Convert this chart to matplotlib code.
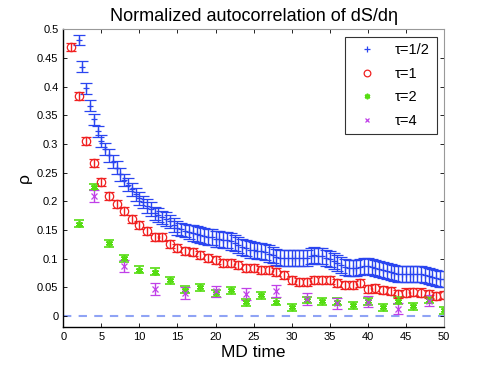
import matplotlib
matplotlib.use("Agg")
import matplotlib.pyplot as plt
import numpy as np

# tau = 1/2 (every half MD time unit, from t=2)
t_half = np.arange(2, 50.5, 0.5)
rho_half = [0.481, 0.435, 0.397, 0.367, 0.343, 0.322, 0.305, 0.291, 0.280, 0.269,
            0.259, 0.247, 0.237, 0.229, 0.221, 0.212, 0.205, 0.199, 0.192, 0.186,
            0.179, 0.176, 0.172, 0.169, 0.165, 0.159, 0.154, 0.151, 0.149, 0.147,
            0.145, 0.143, 0.141, 0.140, 0.138, 0.137, 0.135, 0.134, 0.133, 0.132,
            0.130, 0.127, 0.124, 0.121, 0.118, 0.116, 0.115, 0.114, 0.114, 0.112,
            0.109, 0.106, 0.103, 0.102, 0.102, 0.101, 0.101, 0.101, 0.101, 0.102,
            0.102, 0.104, 0.106, 0.105, 0.104, 0.102, 0.099, 0.096, 0.093, 0.089,
            0.086, 0.084, 0.083, 0.084, 0.086, 0.087, 0.087, 0.085, 0.083, 0.082,
            0.080, 0.078, 0.077, 0.075, 0.073, 0.073, 0.073, 0.073, 0.073, 0.073,
            0.073, 0.071, 0.070, 0.068, 0.067, 0.065, 0.064]
err_half = [0.009] * 2 + [0.010] * 6 + [0.011] * 10 + [0.012] * 12 + [0.014] * 67

# tau = 1
t_one = np.arange(1, 51)
rho_one = [0.470, 0.384, 0.306, 0.267, 0.234, 0.210, 0.196, 0.183, 0.169, 0.159,
           0.149, 0.138, 0.138, 0.126, 0.118, 0.114, 0.112, 0.106, 0.101, 0.098,
           0.093, 0.092, 0.089, 0.084, 0.083, 0.081, 0.080, 0.077, 0.072, 0.063,
           0.059, 0.060, 0.062, 0.063, 0.062, 0.057, 0.054, 0.054, 0.057, 0.047,
           0.048, 0.046, 0.044, 0.038, 0.041, 0.042, 0.041, 0.038, 0.035, 0.037]
err_one = 0.007

# tau = 2
t_two = np.arange(2, 51, 2)
rho_two = [0.161, 0.225, 0.127, 0.101, 0.081, 0.077, 0.062, 0.046, 0.050, 0.040,
           0.045, 0.024, 0.036, 0.025, 0.015, 0.028, 0.026, 0.025, 0.019, 0.026,
           0.015, 0.027, 0.017, 0.028, 0.010]
err_two = 0.006

# tau = 4
t_four = np.arange(4, 49, 4)
rho_four = [0.209, 0.087, 0.047, 0.040, 0.043, 0.038, 0.044, 0.030, 0.022, 0.025,
            0.013, 0.027]
err_four = 0.010

plt.rcParams['font.family'] = ['Liberation Sans', 'DejaVu Sans']

fig = plt.figure(figsize=(4.91, 3.69), dpi=100)
ax = fig.add_axes([0.129, 0.1125, 0.775, 0.808])

ax.axhline(0, color='#8fa3f5', lw=1.5, ls=(0, (4, 3.5)), zorder=1)

ax.errorbar(t_half, rho_half, yerr=err_half, marker='+', ls='none', color='#2a45f0',
            ms=5, mew=0.9, elinewidth=1.0, capsize=4.2, capthick=1.0, label='τ=1/2')
ax.errorbar(t_one, rho_one, yerr=err_one, marker='o', ls='none', mfc='none', color='#f02020',
            ms=6, mew=0.9, elinewidth=1.0, capsize=3.8, capthick=1.0, label='τ=1')
ax.errorbar(t_two, rho_two, yerr=err_two, marker=(6, 2, 0), ls='none', color='#55dd11',
            ms=5, mew=1.2, elinewidth=1.0, capsize=3.8, capthick=1.0, label='τ=2')
ax.errorbar(t_four, rho_four, yerr=err_four, marker='x', ls='none', color='#c040e8',
            ms=4, mew=0.9, elinewidth=1.0, capsize=3.8, capthick=1.0, label='τ=4')

ax.set_xlim(0, 50)
ax.set_ylim(-0.02, 0.5)
ax.set_xticks(np.arange(0, 51, 5))
ax.set_yticks(np.arange(0, 0.51, 0.05))
ax.set_yticklabels(['0', '0.05', '0.1', '0.15', '0.2', '0.25', '0.3', '0.35', '0.4', '0.45', '0.5'])
ax.tick_params(direction='in', top=True, right=True, labelsize=8, length=3, width=0.6)
for side in ['top', 'right']:
    ax.spines[side].set_color('#999999')
    ax.spines[side].set_linewidth(0.8)
for side in ['left', 'bottom']:
    ax.spines[side].set_linewidth(1.0)

ax.set_title('Normalized autocorrelation of dS/dη', fontsize=13, pad=6)
ax.set_xlabel('MD time', fontsize=12.5, labelpad=2)
ax.set_ylabel('ρ', fontsize=12.5, labelpad=4)

handles, labels = ax.get_legend_handles_labels()
handles = [h[0] for h in handles]
leg = ax.legend(handles, labels, loc='upper right', fontsize=10.5, frameon=True, fancybox=False,
                edgecolor='black', borderaxespad=0.5, handlelength=2.2, handletextpad=0.8,
                labelspacing=0.65, borderpad=0.45, markerscale=0.8)
leg.get_frame().set_linewidth(0.8)

fig.savefig('out.png', dpi=100)
